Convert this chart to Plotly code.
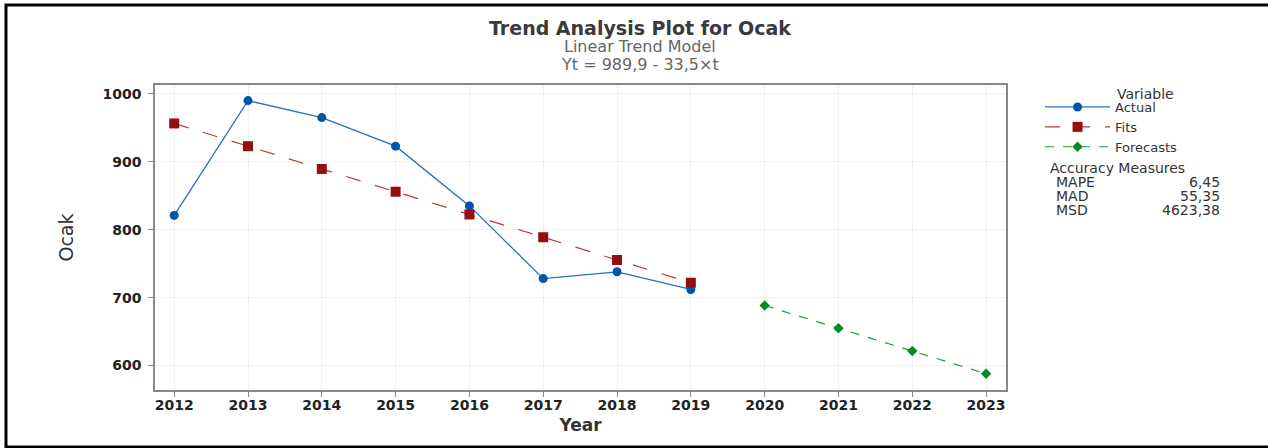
import plotly.graph_objects as go

# data
years_actual = [2012, 2013, 2014, 2015, 2016, 2017, 2018, 2019]
actual = [821, 990, 965, 923, 835, 728, 738, 712]
fits = [956.4, 922.9, 889.4, 855.9, 822.4, 788.9, 755.4, 721.9]
years_fc = [2020, 2021, 2022, 2023]
forecasts = [688.4, 654.9, 621.4, 587.9]
measure_names = ["MAPE", "MAD", "MSD"]
measure_values = ["6,45", "55,35", "4623,38"]

font = "DejaVu Sans"

fig = go.Figure()
fig.add_trace(go.Scatter(
    x=years_actual, y=actual, name="Actual", mode="lines+markers",
    line=dict(color="#2a6fbf", width=1.3),
    marker=dict(symbol="circle", size=9, color="#0054a6"),
))
fig.add_trace(go.Scatter(
    x=years_actual, y=fits, name="Fits", mode="lines+markers",
    line=dict(color="#b83a3a", width=1.2, dash="longdash"),
    marker=dict(symbol="square", size=10, color="#950f0f"),
))
fig.add_trace(go.Scatter(
    x=years_fc, y=forecasts, name="Forecasts", mode="lines+markers",
    line=dict(color="#1f9a3a", width=1.2, dash="dash"),
    marker=dict(symbol="diamond", size=8, color="#078a2a"),
))


def note(text, x, y, size, color="#333", xanchor="center", weight="normal"):
    return dict(text=text, x=x, y=y, xref="paper", yref="paper", xanchor=xanchor,
                yanchor="middle", showarrow=False,
                font=dict(family=font, size=size, color=color, weight=weight))


annotations = [
    note("Trend Analysis Plot for Ocak", 0.570, 1.187, 19, "#3a3a3a", weight="bold"),
    note("Linear Trend Model", 0.570, 1.125, 16, "#666"),
    note("Yt = 989,9 - 33,5×t", 0.570, 1.066, 16, "#666"),
    note("Variable", 1.128, 0.970, 14, xanchor="left"),
    note("Accuracy Measures", 1.049, 0.728, 14, xanchor="left"),
]
for i, (n, v) in enumerate(zip(measure_names, measure_values)):
    yy = 0.682 - i * 0.046
    annotations.append(note(n, 1.056, yy, 14, xanchor="left"))
    annotations.append(note(v, 1.254, yy, 14, xanchor="right"))

fig.update_layout(
    width=1268, height=448,
    margin=dict(l=155, r=262, t=85, b=58),
    paper_bgcolor="white", plot_bgcolor="white",
    font=dict(family=font, color="#333"),
    annotations=annotations,
    showlegend=True,
    legend=dict(x=1.040, y=0.977, xanchor="left", yanchor="top",
                font=dict(family=font, size=13, color="#333"),
                bgcolor="rgba(0,0,0,0)", itemwidth=65),
    shapes=[dict(type="rect", xref="paper", yref="paper",
                 x0=-0.1751, x1=1.3126, y0=-0.1869, y1=1.2623,
                 line=dict(color="black", width=3))],
)
fig.update_xaxes(
    range=[2011.74, 2023.27], tickvals=years_actual + years_fc, ticks="outside", ticklen=5,
    tickcolor="#888", showline=True, linecolor="#888", linewidth=1.5, mirror=True,
    showgrid=True, gridcolor="#f0f0f0", zeroline=False,
    tickfont=dict(family=font, size=14, color="#222", weight="bold"),
    ticklabelstandoff=-4,
    title=dict(text="Year", font=dict(family=font, size=17, color="#333", weight="bold"), standoff=8),
)
fig.update_yaxes(
    range=[564, 1013], tickvals=[600, 700, 800, 900, 1000], ticks="outside", ticklen=5,
    tickcolor="#888", showline=True, linecolor="#888", linewidth=1.5, mirror=True,
    showgrid=True, gridcolor="#f0f0f0", zeroline=False,
    tickfont=dict(family=font, size=14, color="#222", weight="bold"),
    ticklabelstandoff=4,
    title=dict(text="Ocak", font=dict(family=font, size=19, color="#333"), standoff=24),
)

fig.write_html("out.html", config={"displayModeBar": False},
               post_script="document.body.style.margin='0';")
